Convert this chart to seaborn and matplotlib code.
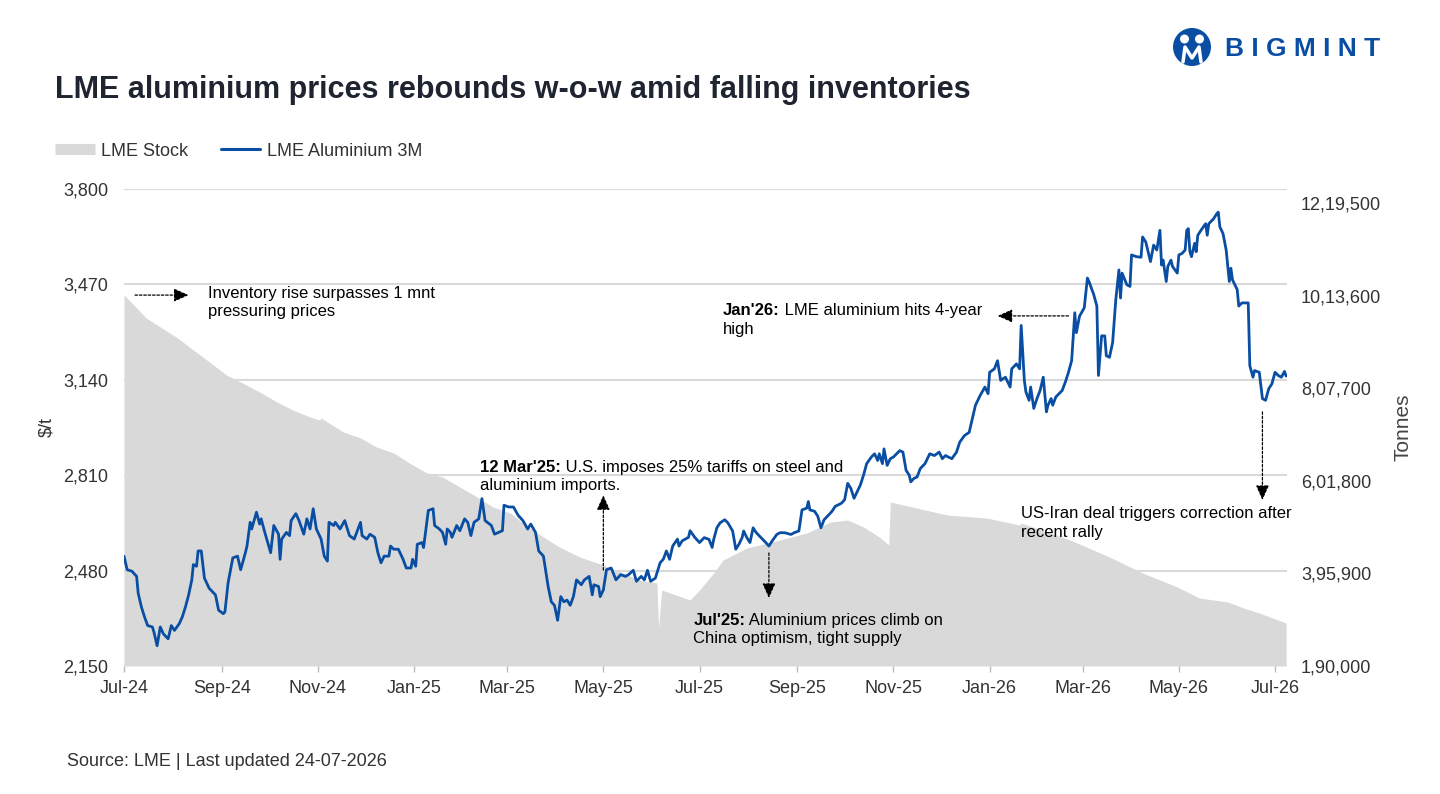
import pandas as pd
import matplotlib
matplotlib.use("Agg")
import matplotlib.pyplot as plt
import matplotlib.dates as mdates
import matplotlib.ticker as mticker
from matplotlib.lines import Line2D
from matplotlib.patches import Circle
import seaborn as sns

START = pd.Timestamp("2024-07-01")

# LME Aluminium 3M ($/t), days counted from START
price_day = [
    0, 2, 5, 8, 9, 11, 13, 15, 18, 19, 21, 23, 25, 28, 30, 32, 35, 37, 39, 41,
    43, 44, 46, 47, 49, 51, 54, 58, 60, 63, 64, 66, 69, 72, 74, 77, 78, 80, 81, 84,
    86, 87, 89, 92, 93, 95, 98, 99, 100, 103, 105, 106, 109, 111, 114, 116, 118, 120, 122, 125,
    127, 129, 130, 133, 134, 137, 140, 143, 146, 150, 151, 154, 156, 159, 161, 163, 165, 168, 169, 171,
    174, 177, 179, 182, 183, 185, 186, 189, 190, 192, 193, 196, 197, 200, 202, 204, 205, 207, 208, 211,
    213, 216, 218, 220, 222, 225, 227, 229, 233, 235, 240, 241, 244, 247, 250, 252, 253, 256, 258, 261,
    263, 266, 267, 269, 271, 273, 275, 277, 279, 281, 283, 285, 287, 290, 292, 295, 297, 298, 301, 302,
    304, 306, 309, 312, 315, 318, 320, 323, 325, 328, 330, 332, 334, 337, 340, 342, 344, 346, 348, 351,
    352, 354, 358, 359, 362, 365, 368, 371, 373, 374, 376, 378, 381, 383, 386, 388, 390, 392, 393, 395,
    397, 399, 401, 404, 407, 409, 411, 414, 416, 419, 423, 425, 428, 430, 433, 434, 435, 438, 440, 442,
    444, 447, 449, 451, 455, 457, 459, 461, 463, 465, 467, 469, 471, 474, 476, 478, 479, 481, 482, 484,
    486, 488, 490, 492, 494, 496, 498, 499, 501, 503, 505, 508, 511, 514, 517, 519, 521, 525, 528, 530,
    533, 536, 540, 543, 546, 548, 549, 552, 554, 556, 559, 562, 563, 566, 568, 569, 571, 572, 574, 575,
    577, 579, 581, 583, 585, 586, 588, 589, 591, 595, 597, 599, 601, 603, 604, 606, 609, 611, 612, 615,
    617, 618, 620, 622, 623, 625, 627, 629, 631, 632, 633, 636, 638, 639, 642, 645, 646, 648, 651, 653,
    655, 657, 658, 659, 661, 662, 664, 665, 668, 669, 671, 673, 674, 675, 676, 677, 679, 680, 681, 683,
    686, 687, 688, 691, 693, 694, 695, 697, 699, 701, 702, 703, 706, 707, 709, 713, 714, 716, 717, 720,
    722, 724, 726, 728, 730, 732, 734, 736, 737,
]
price_usd = [
    2530, 2483, 2478, 2460, 2402, 2355, 2320, 2290, 2285, 2267, 2220, 2285, 2261, 2244, 2290, 2273, 2296, 2320, 2355, 2396,
    2448, 2501, 2495, 2548, 2548, 2454, 2419, 2396, 2343, 2331, 2337, 2437, 2524, 2530, 2483, 2542, 2565, 2647, 2624, 2682,
    2641, 2659, 2618, 2560, 2542, 2636, 2606, 2519, 2589, 2612, 2601, 2653, 2677, 2653, 2606, 2659, 2624, 2694, 2624, 2589,
    2530, 2513, 2647, 2636, 2647, 2624, 2653, 2601, 2589, 2647, 2601, 2589, 2606, 2595, 2542, 2507, 2530, 2530, 2565, 2554,
    2554, 2519, 2489, 2489, 2519, 2495, 2571, 2577, 2560, 2647, 2688, 2694, 2636, 2624, 2612, 2571, 2624, 2612, 2595, 2636,
    2618, 2659, 2647, 2601, 2647, 2659, 2729, 2653, 2636, 2606, 2618, 2706, 2700, 2700, 2671, 2659, 2653, 2624, 2641, 2612,
    2548, 2530, 2495, 2425, 2372, 2360, 2308, 2390, 2372, 2378, 2360, 2390, 2448, 2431, 2448, 2460, 2396, 2431, 2425, 2390,
    2413, 2483, 2489, 2448, 2466, 2460, 2466, 2481, 2443, 2460, 2448, 2481, 2443, 2454, 2507, 2519, 2548, 2519, 2565, 2589,
    2565, 2583, 2595, 2618, 2595, 2577, 2594, 2588, 2560, 2588, 2628, 2645, 2656, 2645, 2617, 2554, 2571, 2594, 2617, 2594,
    2577, 2628, 2611, 2594, 2577, 2565, 2582, 2605, 2611, 2611, 2605, 2611, 2617, 2690, 2696, 2719, 2690, 2685, 2668, 2628,
    2656, 2673, 2685, 2702, 2713, 2725, 2782, 2764, 2730, 2753, 2776, 2810, 2850, 2873, 2884, 2861, 2884, 2850, 2901, 2844,
    2867, 2873, 2884, 2895, 2890, 2827, 2810, 2787, 2799, 2804, 2833, 2850, 2884, 2878, 2890, 2867, 2878, 2867, 2890, 2924,
    2947, 2958, 3052, 3086, 3115, 3092, 3166, 3178, 3206, 3138, 3149, 3115, 3178, 3195, 3178, 3328, 3138, 3098, 3069, 3115,
    3041, 3075, 3103, 3149, 3029, 3052, 3075, 3052, 3081, 3103, 3132, 3166, 3206, 3372, 3303, 3360, 3389, 3492, 3480, 3435,
    3395, 3155, 3292, 3292, 3223, 3218, 3269, 3417, 3520, 3423, 3509, 3469, 3463, 3572, 3566, 3564, 3634, 3617, 3549, 3606,
    3589, 3657, 3537, 3554, 3480, 3532, 3554, 3532, 3509, 3572, 3577, 3589, 3657, 3663, 3583, 3566, 3612, 3583, 3640, 3657,
    3680, 3640, 3680, 3697, 3714, 3720, 3669, 3646, 3589, 3480, 3526, 3486, 3452, 3395, 3406, 3406, 3189, 3149, 3172, 3166,
    3075, 3069, 3109, 3126, 3166, 3155, 3149, 3169, 3153,
]

# LME aluminium stock (tonnes), days counted from START
stock_day = [
    0, 8, 14, 23, 34, 44, 55, 65, 74, 86, 97, 107, 118, 124, 125, 139, 150, 160, 171, 181,
    192, 202, 213, 224, 234, 245, 252, 264, 276, 289, 304, 327, 338, 339, 341, 359, 365, 374, 380, 395,
    416, 433, 448, 459, 469, 479, 485, 486, 500, 522, 547, 568, 569, 600, 625, 646, 668, 682, 700, 710,
    720, 737,
]
stock_t = [
    1014900, 986000, 963800, 943800, 919300, 892600, 863700, 837000, 821500, 799200, 777000, 759200, 743700, 737000, 741400, 710300, 697000, 677000, 663600, 641400,
    619100, 610200, 588000, 565800, 543500, 530200, 510200, 481300, 454600, 432400, 414600, 381200, 374600, 274500, 359000, 336800, 359000, 396800, 425700, 452400,
    470200, 485700, 510200, 514600, 499100, 476800, 459000, 554700, 543500, 525700, 519100, 503500, 508000, 470200, 432400, 396800, 365700, 341200, 332300, 319000,
    307800, 285600,
]

price_ticks = [2150, 2480, 2810, 3140, 3470, 3800]
stock_ticks = [190000, 395900, 601800, 807700, 1013600, 1219500]
stock_top = 1250600
month_ticks = pd.date_range("2024-07-01", "2026-07-01", freq="2MS")
x_end = "2026-07-08 14:00"

BLUE = "#0a4ea3"
GREY = "#d9d9d9"
TEXT = "#333333"
NOTE_SIZE = 12


def indian_format(v, pos=None):
    s = str(int(round(v)))
    if len(s) <= 3:
        return s
    head, tail = s[:-3], s[-3:]
    groups = []
    while len(head) > 2:
        groups.insert(0, head[-2:])
        head = head[:-2]
    if head:
        groups.insert(0, head)
    return ",".join(groups + [tail])


def dnum(when):
    return mdates.date2num(pd.Timestamp(when))


def note(ax, when, price, bold, rest, second):
    first = ax.text(dnum(when), price, bold, fontsize=NOTE_SIZE,
                    fontweight="bold" if rest else "normal",
                    va="center", ha="left", color="black", clip_on=False)
    if rest:
        ax.annotate(rest, xy=(1, 0.5), xycoords=first, va="center", ha="left",
                    fontsize=NOTE_SIZE, color="black", annotation_clip=False)
    ax.annotate(second, xy=(0, 0), xycoords=first, xytext=(0, -2.5), textcoords="offset points",
                va="top", ha="left", fontsize=NOTE_SIZE, color="black", annotation_clip=False)


def arrow(ax, tail, tip):
    ax.annotate("", xy=(dnum(tip[0]), tip[1]), xytext=(dnum(tail[0]), tail[1]),
                arrowprops=dict(arrowstyle="-|>,head_length=0.9,head_width=0.4",
                                color="black", lw=0.9, ls=(0, (2, 1.5)),
                                shrinkA=0, shrinkB=0, mutation_scale=10),
                annotation_clip=False)


price_df = pd.DataFrame({"date": START + pd.to_timedelta(price_day, unit="D"), "price": price_usd})
stock_df = pd.DataFrame({"date": START + pd.to_timedelta(stock_day, unit="D"), "stock": stock_t})

sns.set_theme(style="white")
plt.rcParams["font.family"] = ["Liberation Sans", "DejaVu Sans"]

fig = plt.figure(figsize=(14.4, 7.94), dpi=100)
ax = fig.add_axes([124 / 1440, 1 - 666 / 794, 1163 / 1440, 477 / 794])
ax2 = ax.twinx()
ax.set_zorder(ax2.get_zorder() + 1)
ax.patch.set_visible(False)

# stock area on the right axis
ax2.fill_between(stock_df["date"], stock_df["stock"], stock_ticks[0], color=GREY, lw=0)
# price line on the left axis
sns.lineplot(data=price_df, x="date", y="price", ax=ax, color=BLUE, lw=2.0)

ax.set_xlim(START, pd.Timestamp(x_end))
ax.set_ylim(price_ticks[0], price_ticks[-1])
ax2.set_ylim(stock_ticks[0], stock_top)

ax.set_yticks(price_ticks)
ax.yaxis.set_major_formatter(mticker.StrMethodFormatter("{x:,.0f}"))
ax.grid(axis="y", color=GREY, lw=1.5)
ax.grid(axis="x", visible=False)
ax2.grid(False)
ax2.set_yticks(stock_ticks)
ax2.yaxis.set_major_formatter(mticker.FuncFormatter(indian_format))

ax.set_xticks(month_ticks)
ax.xaxis.set_major_formatter(mdates.DateFormatter("%b-%y"))

for a in (ax, ax2):
    for s in a.spines.values():
        s.set_visible(False)

ax.tick_params(axis="x", bottom=True, length=4, width=1, color="#bbbbbb", direction="out",
               pad=6, labelsize=13, labelcolor=TEXT)
ax.tick_params(axis="y", left=False, length=0, pad=11.5, labelsize=13, labelcolor=TEXT)
ax2.tick_params(axis="y", right=False, length=0, pad=10, labelsize=13, labelcolor=TEXT)

ax.set_xlabel("")
ax.set_ylabel(r"\$/t", fontsize=13, color=TEXT)
ax.yaxis.set_label_coords(-0.059, 0.5)
ax2.set_ylabel("Tonnes", fontsize=15, color="#444444")
ax2.yaxis.set_label_coords(1.092, 0.5)

# annotations
arrow(ax, ("2024-07-08", 3433), ("2024-08-11", 3433))
note(ax, "2024-08-23", 3440, "Inventory rise surpasses 1 mnt", "", "pressuring prices")

arrow(ax, ("2025-05-01", 2482), ("2025-05-01", 2741))
note(ax, "2025-02-12", 2838, "12 Mar'25:", " U.S. imposes 25% tariffs on steel and", "aluminium imports.")

arrow(ax, ("2025-08-14", 2541), ("2025-08-14", 2385))
note(ax, "2025-06-27", 2309, "Jul'25:", " Aluminium prices climb on", "China optimism, tight supply")

arrow(ax, ("2026-02-20", 3361), ("2026-01-06", 3361))
note(ax, "2025-07-16", 3378, "Jan'26:", " LME aluminium hits 4-year", "high")

arrow(ax, ("2026-06-23", 3029), ("2026-06-23", 2724))
note(ax, "2026-01-21", 2676, "US-Iran deal triggers correction after", "", "recent rally")

# legend
handles = [Line2D([], [], color=GREY, lw=8, solid_capstyle="butt"),
           Line2D([], [], color=BLUE, lw=2.2)]
fig.legend(handles, ["LME Stock", "LME Aluminium 3M"], loc="center left",
           bbox_to_anchor=(55 / 1440, 1 - 151 / 794), ncol=2, frameon=False, fontsize=13,
           handlelength=2.2, handletextpad=0.35, columnspacing=1.8, borderpad=0,
           borderaxespad=0, labelcolor=TEXT)

# title and source
fig.text(55 / 1440, 1 - 90 / 794, "LME aluminium prices rebounds w-o-w amid falling inventories",
         fontsize=22, fontweight="bold", color="#1e2430", va="center", ha="left")
fig.text(67 / 1440, 1 - 761 / 794, "Source: LME | Last updated 24-07-2026",
         fontsize=13, color=TEXT, va="center", ha="left")

# logo
tr = fig.dpi_scale_trans
fig.add_artist(Circle((11.92, 7.47), 0.19, transform=tr, color=BLUE, lw=0))
fig.add_artist(Circle((11.845, 7.55), 0.045, transform=tr, color="white", lw=0))
fig.add_artist(Circle((11.995, 7.55), 0.045, transform=tr, color="white", lw=0))
fig.add_artist(Line2D([11.83, 11.85, 11.92, 11.99, 12.01], [7.32, 7.47, 7.36, 7.47, 7.32],
                      transform=tr, color="white", lw=2.5))
fig.text(1225 / 1440, 1 - 49 / 794, "B I G M I N T", fontsize=19, fontweight="bold",
         color=BLUE, va="center", ha="left")

fig.savefig("out.png", dpi=100)
